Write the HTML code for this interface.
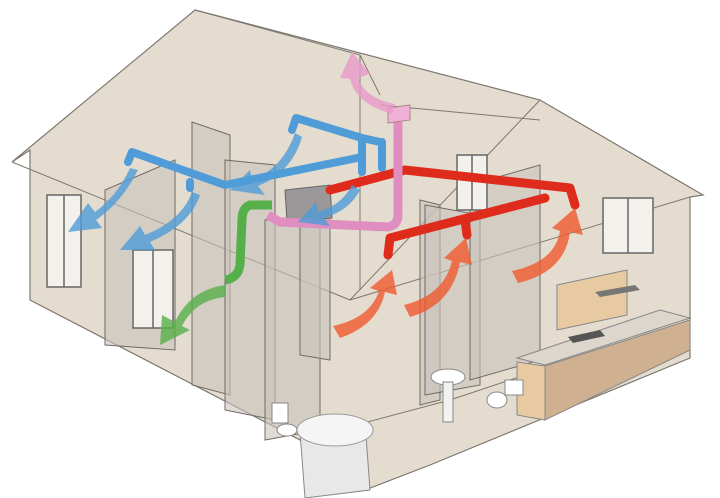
<!DOCTYPE html>
<html><head><meta charset="utf-8"><style>html,body{margin:0;padding:0;background:#fff}svg{display:block}</style></head>
<body>
<svg width="720" height="498" viewBox="0 0 720 498" xmlns="http://www.w3.org/2000/svg">
<rect width="720" height="498" fill="#fff"/>
<!-- house body -->
<g stroke="#7d7770" stroke-width="1.2" fill="#e4dccf">
<polygon points="195,10 540,100 703,195 690,197 690,358 430,465 365,490 300,440 30,300 30,150 12,162"/>
</g>
<g stroke="#7d7770" stroke-width="1" fill="none">
<polyline points="12,162 350,300 540,100"/>
<polyline points="195,10 360,55 380,95"/>
<line x1="360" y1="55" x2="360" y2="290"/>
<polyline points="300,440 450,400 690,320"/>
<line x1="350" y1="300" x2="690" y2="197"/>
<line x1="380" y1="105" x2="540" y2="120"/>
</g>
<!-- interior walls -->
<g stroke="#6f6a66" stroke-width="1" fill="#c9c3bd" fill-opacity="0.6">
<polygon points="105,190 175,160 175,350 105,345"/>
<polygon points="192,122 230,135 230,395 192,385"/>
<polygon points="225,160 275,165 275,420 225,410"/>
<polygon points="265,220 320,215 320,430 265,440"/>
<polygon points="300,220 330,220 330,360 300,355"/>
<polygon points="420,200 440,205 440,400 420,405"/>
<polygon points="425,205 480,215 480,385 425,395"/>
<polygon points="470,185 540,165 540,360 470,380"/>
</g>
<!-- windows -->
<g stroke="#666" stroke-width="1.5" fill="#f3f1ec">
<rect x="47" y="195" width="34" height="92"/>
<rect x="133" y="250" width="40" height="78"/>
<rect x="603" y="198" width="50" height="55"/>
<rect x="457" y="155" width="30" height="55"/>
</g>
<g stroke="#666" stroke-width="1.5"><line x1="64" y1="195" x2="64" y2="287"/><line x1="153" y1="250" x2="153" y2="328"/><line x1="628" y1="198" x2="628" y2="253"/><line x1="472" y1="155" x2="472" y2="210"/></g>
<!-- kitchen -->
<polygon points="557,285 627,270 627,315 557,330" fill="#e8caa2" stroke="#888"/>
<polygon points="517,358 660,310 690,318 545,365" fill="#dcd6cc" stroke="#888"/>
<polygon points="517,362 545,366 545,420 517,415" fill="#e8caa2" stroke="#888"/>
<polygon points="545,366 690,320 690,350 545,420" fill="#cfb090" stroke="#888"/>
<polygon points="595,292 635,285 640,290 600,297" fill="#777"/>
<polygon points="568,337 600,330 605,336 573,343" fill="#555"/>
<!-- bath and fixtures -->
<polygon points="300,432 365,422 370,490 305,498" fill="#e8e8e8" stroke="#888"/>
<ellipse cx="335" cy="430" rx="38" ry="16" fill="#f5f5f5" stroke="#999"/>
<ellipse cx="448" cy="377" rx="17" ry="8" fill="#fff" stroke="#888"/>
<rect x="443" y="382" width="10" height="40" fill="#f2f2f2" stroke="#888"/>
<rect x="505" y="380" width="18" height="15" fill="#fff" stroke="#888"/>
<ellipse cx="497" cy="400" rx="10" ry="8" fill="#fff" stroke="#888"/>
<rect x="272" y="403" width="16" height="20" fill="#fff" stroke="#888"/>
<ellipse cx="287" cy="430" rx="10" ry="6" fill="#fff" stroke="#888"/>
<!-- blue pipes -->
<g stroke="#4f9cd8" stroke-width="8" fill="none" stroke-linecap="round" stroke-linejoin="round">
<path d="M128,162 L132,152 L225,185 L362,157"/>
<path d="M190,188 L190,182"/>
<path d="M292,130 L296,118 L362,138 L380,142"/>
<path d="M362,140 L362,172 M382,142 L382,168"/>
</g>
<!-- green pipe -->
<path d="M272,205 L250,205 Q242,208 242,220 L240,265 Q238,278 225,280" stroke="#56b04a" stroke-width="9" fill="none"/>
<!-- unit box -->
<polygon points="285,190 330,185 332,218 287,222" fill="#9a9898" stroke="#666"/>
<!-- red pipes -->
<g stroke="#df2b1c" stroke-width="9" fill="none" stroke-linecap="round" stroke-linejoin="round">
<path d="M330,190 L405,170 L570,188 L575,205"/>
<path d="M388,255 L390,238 L545,198"/>
<path d="M465,220 L467,235"/>
</g>
<!-- pink pipe -->
<path d="M398,112 L398,215 Q398,225 388,227 L280,222 L268,215" stroke="#e08ec0" stroke-width="9" fill="none"/>
<polygon points="388,108 410,105 410,120 388,123" fill="#f0b0d8" stroke="#a88"/>
<!-- arrows -->
<g stroke="none" fill-opacity="0.8">
<path d="M130,168 Q118,195 95,212 L88,203 L68,232 L102,228 L96,220 Q122,202 138,170z" fill="#4f9cd8"/>
<path d="M192,192 Q182,220 145,235 L140,226 L120,250 L155,250 L150,242 Q190,225 200,195z" fill="#4f9cd8"/>
<path d="M295,133 Q283,168 252,180 L250,170 L230,190 L265,195 L258,186 Q292,172 302,137z" fill="#4f9cd8"/>
<path d="M352,185 Q342,205 318,212 L316,202 L298,222 L330,226 L324,218 Q350,210 360,190z" fill="#4f9cd8"/>
<path d="M225,285 Q190,290 175,322 L162,315 L160,345 L190,330 L182,326 Q195,300 225,297z" fill="#56b04a"/>
<path d="M395,104 Q365,98 358,78 L370,74 L352,52 L340,78 L350,79 Q356,104 392,114z" fill="#e99ac8"/>
<path d="M340,338 Q378,325 385,292 L397,295 L392,270 L370,288 L379,291 Q370,318 333,326z" fill="#ef5a2e"/>
<path d="M410,317 Q452,305 460,262 L472,265 L466,238 L444,258 L452,261 Q444,295 404,305z" fill="#ef5a2e"/>
<path d="M518,283 Q565,272 570,232 L583,235 L575,208 L552,228 L560,231 Q555,262 512,271z" fill="#ef5a2e"/>
</g>
</svg>
</body></html>
